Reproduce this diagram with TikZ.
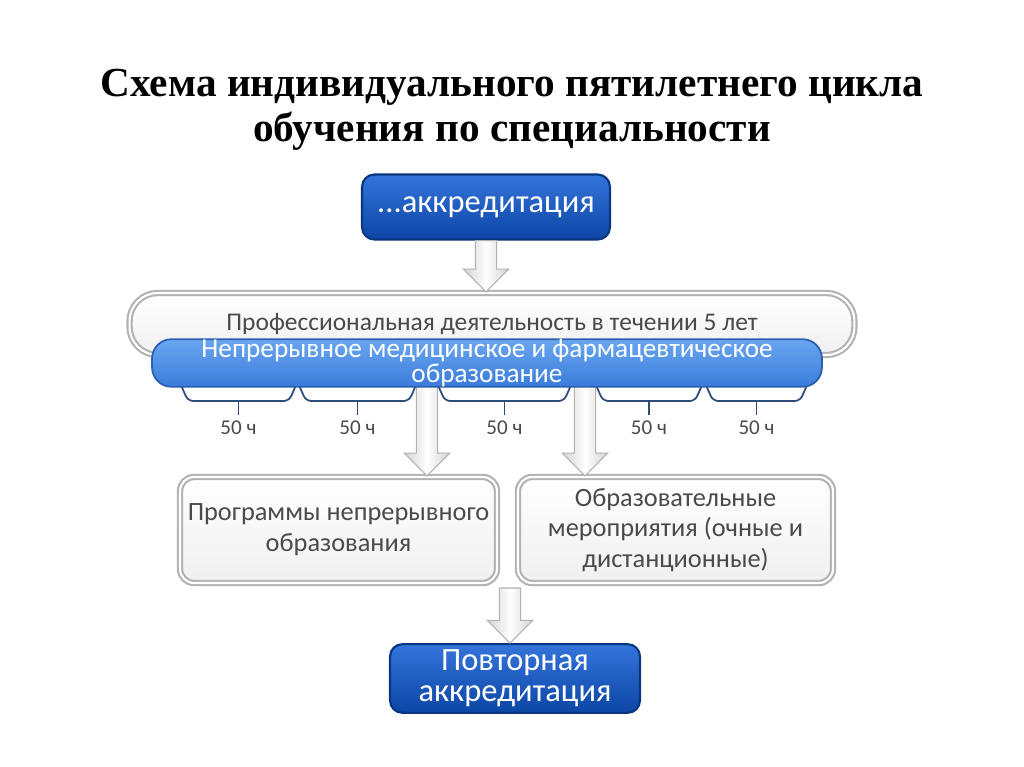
\documentclass[tikz,border=0pt]{standalone}
\usepackage{fontspec}
\setmainfont{Carlito}
\newfontfamily\titlefont{Liberation Serif}
\usetikzlibrary{calc}

\definecolor{acctop}{HTML}{3474DA}
\definecolor{accbot}{HTML}{0C46A6}
\definecolor{accedge}{HTML}{0A3580}
\definecolor{nmotop}{HTML}{6AA6F0}
\definecolor{nmobot}{HTML}{3A7CDB}
\definecolor{nmoedge}{HTML}{2C5FAE}
\definecolor{bracecol}{HTML}{2E4C7A}
\definecolor{greytext}{HTML}{4A4A4A}

\begin{document}
\begin{tikzpicture}[x=0.02cm, y=-0.02cm,
        % define styles
        titletext/.style={
            align=center,
            font=\titlefont\bfseries\fontsize{23.5}{25.5}\selectfont
        },
        accbox/.style={
            draw=accedge, line width=1.2pt, rounded corners=7pt,
            top color=acctop, bottom color=accbot,
            text=white, align=center
        },
        greybox/.style={
            draw=gray!60, line width=1.2pt, double=white, double distance=1.2pt,
            rounded corners=8pt, top color=white, bottom color=gray!12,
            text=greytext, align=center,
            font=\fontsize{15}{17.5}\selectfont
        },
        nmobox/.style={
            draw=nmoedge, line width=1pt, rounded corners=11pt,
            top color=nmotop, bottom color=nmobot,
            text=white, align=center, inner ysep=0pt,
            font=\fontsize{15.5}{12}\selectfont
        },
        hours/.style={
            text=greytext,
            font=\fontsize{12}{14}\selectfont
        },
        brace/.style={
            draw=bracecol, line width=1pt
        },
        blockarrow/.style={
            draw=gray!60, line width=0.6pt,
            left color=gray!35, right color=gray!35, middle color=white,
            to path={let \p1=(\tikztostart), \p2=(\tikztotarget) in
                (\x1-6pt,\y1) -- (\x1-6pt,\y2+13pt) -- (\x1-13pt,\y2+13pt)
                -- (\x1,\y2) -- (\x1+13pt,\y2+13pt) -- (\x1+6pt,\y2+13pt)
                -- (\x1+6pt,\y1) -- cycle}
        }
    ]
    \path[use as bounding box, fill=white] (0,0) rectangle (1024,767);

    % heading
    \node[titletext] (title) at (512,110)
        {Схема индивидуального пятилетнего цикла\\обучения по специальности};

    % top of the cycle
    \node[accbox, minimum width=4.96cm, minimum height=1.3cm,
        font=\fontsize{18.5}{20}\selectfont] (acc) at (486,207) {...аккредитация};

    % five years of work
    \node[greybox, rounded corners=16pt, minimum width=14.5cm, minimum height=1.24cm,
        font=\fontsize{14.5}{17}\selectfont] (prof) at (492,324)
        {Профессиональная деятельность в течении 5 лет};

    % lower boxes
    \node[greybox, minimum width=6.34cm, minimum height=2.12cm] (prog) at (338.5,530)
        {Программы непрерывного\\образования};
    \node[greybox, minimum width=6.3cm, minimum height=2.12cm] (events) at (675.5,530)
        {Образовательные\\мероприятия (очные и\\дистанционные)};
    \node[accbox, minimum width=5cm, minimum height=1.34cm,
        font=\fontsize{18.5}{17.5}\selectfont] (reacc) at (515,678.5)
        {Повторная\\аккредитация};

    % braces with 50 hours each
    \foreach \a/\b [count=\i] in {180/297, 298/417, 437/572, 595/703, 705/808} {
        \draw[brace, rounded corners=3pt] (\a,383) -- (\a+8,401) -- (\b-8,401) -- (\b,383);
        \node[hours] (h\i) at ({(\a+\b)/2},428) {50 ч};
        \draw[brace] (h\i.north |- 0,401) -- (h\i.north);
    }

    % arrows
    \coordinate (s1) at (427,380);
    \coordinate (s2) at (585,380);
    \coordinate (s3) at (510,588);
    \draw[blockarrow] (acc.south) to (prof.north);
    \draw[blockarrow] (s1) to (s1 |- prog.north);
    \draw[blockarrow] (s2) to (s2 |- events.north);
    \draw[blockarrow] (s3) to (s3 |- reacc.north);

    % continuous education band
    \node[nmobox, minimum width=13.4cm, minimum height=0.86cm] (nmo) at (487,363)
        {Непрерывное медицинское и фармацевтическое\\образование};
\end{tikzpicture}
\end{document}
